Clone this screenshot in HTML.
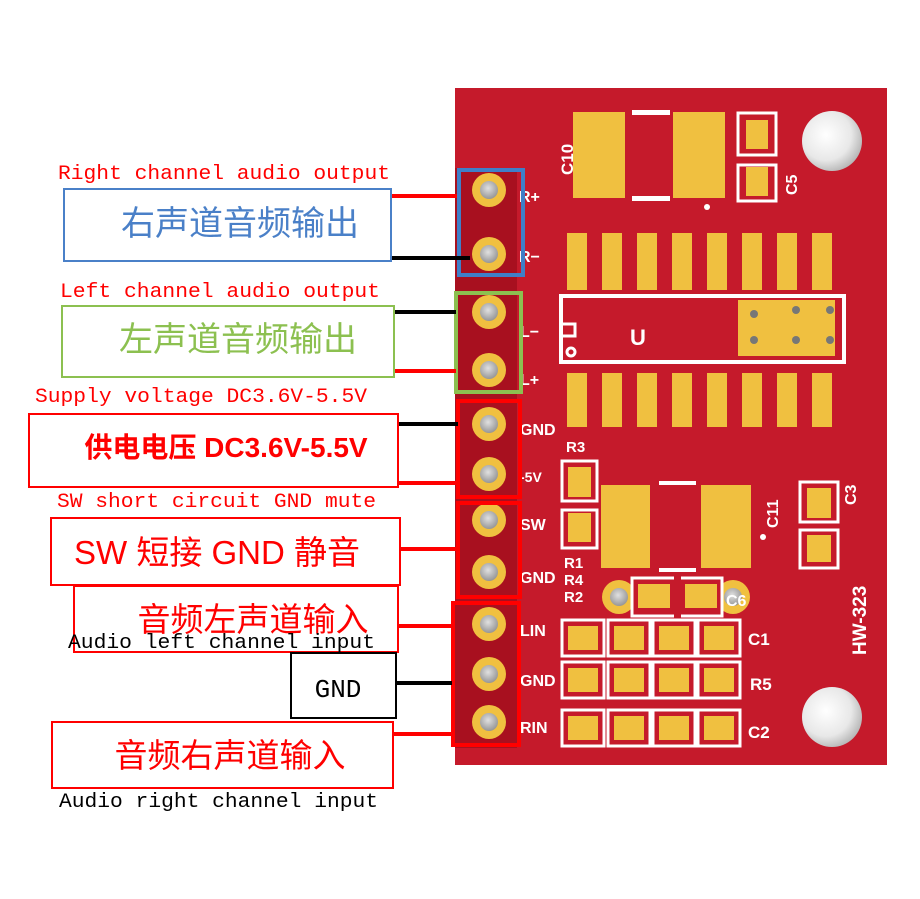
<!DOCTYPE html>
<html><head><meta charset="utf-8"><style>
html,body{margin:0;padding:0;background:#fff;}
svg{display:block;}
.cn{font-family:"Liberation Sans","Noto Sans CJK SC",sans-serif;}
.mo{font-family:"Liberation Mono","Liberation Serif",monospace;}
.wl{font-family:"Liberation Sans",sans-serif;fill:#fff;font-weight:bold;}
</style></head><body>
<svg width="920" height="899" viewBox="0 0 920 899" xmlns="http://www.w3.org/2000/svg">
<defs>
<radialGradient id="hole" cx="0.4" cy="0.4" r="0.7"><stop offset="0" stop-color="#ffffff"/><stop offset="0.6" stop-color="#e8e8e8"/><stop offset="1" stop-color="#a8a8a8"/></radialGradient>
<radialGradient id="via" cx="0.45" cy="0.4" r="0.7"><stop offset="0" stop-color="#e0e0e0"/><stop offset="1" stop-color="#8a8a8a"/></radialGradient>
</defs>
<rect x="455" y="88" width="432" height="677" fill="#c51a2b"/>
<rect x="455" y="168" width="62" height="580" fill="#a8101f"/>
<circle cx="832" cy="141" r="30" fill="url(#hole)"/>
<circle cx="832" cy="717" r="30" fill="url(#hole)"/>
<rect x="573" y="112" width="52" height="86" fill="#f0c040"/>
<rect x="673" y="112" width="52" height="86" fill="#f0c040"/>
<rect x="632" y="110" width="38" height="5" fill="#fff"/>
<rect x="632" y="196" width="38" height="5" fill="#fff"/>
<circle cx="707" cy="207" r="3" fill="#fff"/>
<text class="wl" font-size="17" transform="translate(573,175) rotate(-90)">C10</text>
<rect x="738" y="113" width="38" height="42" fill="none" stroke="#fff" stroke-width="3"/>
<rect x="738" y="165" width="38" height="36" fill="none" stroke="#fff" stroke-width="3"/>
<rect x="746" y="120" width="22" height="29" fill="#f0c040"/>
<rect x="746" y="167" width="22" height="29" fill="#f0c040"/>
<text class="wl" font-size="16" transform="translate(797,195) rotate(-90)">C5</text>
<g fill="#f0c040">
<rect x="567" y="233" width="20" height="57"/><rect x="602" y="233" width="20" height="57"/><rect x="637" y="233" width="20" height="57"/><rect x="672" y="233" width="20" height="57"/><rect x="707" y="233" width="20" height="57"/><rect x="742" y="233" width="20" height="57"/><rect x="777" y="233" width="20" height="57"/><rect x="812" y="233" width="20" height="57"/>
<rect x="567" y="373" width="20" height="54"/><rect x="602" y="373" width="20" height="54"/><rect x="637" y="373" width="20" height="54"/><rect x="672" y="373" width="20" height="54"/><rect x="707" y="373" width="20" height="54"/><rect x="742" y="373" width="20" height="54"/><rect x="777" y="373" width="20" height="54"/><rect x="812" y="373" width="20" height="54"/>
</g>
<rect x="561" y="296" width="283" height="66" fill="none" stroke="#fff" stroke-width="4"/>
<rect x="738" y="300" width="97" height="56" fill="#f0c040"/>
<g fill="#777"><circle cx="754" cy="314" r="4"/><circle cx="796" cy="310" r="4"/><circle cx="830" cy="310" r="4"/><circle cx="754" cy="340" r="4"/><circle cx="796" cy="340" r="4"/><circle cx="830" cy="340" r="4"/></g>
<path d="M563 324 h12 v12 h-12" fill="none" stroke="#fff" stroke-width="3"/>
<circle cx="571" cy="352" r="4" fill="none" stroke="#fff" stroke-width="3"/>
<text class="wl" font-size="22" transform="translate(630,345)">U</text>
<rect x="562" y="461" width="35" height="40" fill="none" stroke="#fff" stroke-width="3"/>
<rect x="568" y="467" width="23" height="30" fill="#f0c040"/>
<rect x="562" y="510" width="35" height="38" fill="none" stroke="#fff" stroke-width="3"/>
<rect x="568" y="513" width="23" height="29" fill="#f0c040"/>
<rect x="601" y="485" width="49" height="83" fill="#f0c040"/>
<rect x="701" y="485" width="50" height="83" fill="#f0c040"/>
<rect x="659" y="481" width="37" height="4" fill="#fff"/>
<rect x="659" y="568" width="37" height="4" fill="#fff"/>
<circle cx="763" cy="537" r="3" fill="#fff"/>
<text class="wl" font-size="16" transform="translate(778,528) rotate(-90)">C11</text>
<rect x="800" y="482" width="38" height="40" fill="none" stroke="#fff" stroke-width="3"/>
<rect x="800" y="530" width="38" height="38" fill="none" stroke="#fff" stroke-width="3"/>
<rect x="807" y="488" width="24" height="30" fill="#f0c040"/>
<rect x="807" y="535" width="24" height="27" fill="#f0c040"/>
<text class="wl" font-size="16" transform="translate(856,505) rotate(-90)">C3</text>
<text class="wl" font-size="19" transform="translate(866,655) rotate(-90)">HW-323</text>
<circle cx="619" cy="597" r="17" fill="#f0c040"/><circle cx="619" cy="597" r="9" fill="url(#via)"/>
<circle cx="733" cy="597" r="17" fill="#f0c040"/><circle cx="733" cy="597" r="9" fill="url(#via)"/>
<rect x="632" y="578" width="90" height="38" fill="#c51a2b" stroke="#fff" stroke-width="3"/>
<rect x="638" y="584" width="32" height="24" fill="#f0c040"/>
<rect x="685" y="584" width="32" height="24" fill="#f0c040"/>
<rect x="674" y="576" width="7" height="42" fill="#c51a2b"/>
<text class="wl" font-size="16" x="726" y="606">C6</text>
<g fill="none" stroke="#fff" stroke-width="3">
<rect x="562" y="620" width="42" height="36"/><rect x="608" y="620" width="42" height="36"/><rect x="653" y="620" width="42" height="36"/><rect x="698" y="620" width="42" height="36"/>
<rect x="562" y="662" width="42" height="36"/><rect x="608" y="662" width="42" height="36"/><rect x="653" y="662" width="42" height="36"/><rect x="698" y="662" width="42" height="36"/>
<rect x="562" y="710" width="42" height="36"/><rect x="608" y="710" width="42" height="36"/><rect x="653" y="710" width="42" height="36"/><rect x="698" y="710" width="42" height="36"/>
</g>
<g fill="#f0c040">
<rect x="568" y="626" width="30" height="24"/><rect x="614" y="626" width="30" height="24"/><rect x="659" y="626" width="30" height="24"/><rect x="704" y="626" width="30" height="24"/>
<rect x="568" y="668" width="30" height="24"/><rect x="614" y="668" width="30" height="24"/><rect x="659" y="668" width="30" height="24"/><rect x="704" y="668" width="30" height="24"/>
<rect x="568" y="716" width="30" height="24"/><rect x="614" y="716" width="30" height="24"/><rect x="659" y="716" width="30" height="24"/><rect x="704" y="716" width="30" height="24"/>
</g>
<text class="wl" font-size="17" x="748" y="645">C1</text>
<text class="wl" font-size="17" x="750" y="690">R5</text>
<text class="wl" font-size="17" x="748" y="738">C2</text>
<text class="wl" font-size="15" x="566" y="452">R3</text>
<text class="wl" font-size="15" x="564" y="568">R1</text>
<text class="wl" font-size="15" x="564" y="585">R4</text>
<text class="wl" font-size="15" x="564" y="602">R2</text>
<g class="wl" font-size="16">
<text x="519" y="202">R+</text><text x="519" y="262">R−</text>
<text x="520" y="337">L−</text><text x="520" y="385">L+</text>
<text x="520" y="435">GND</text><text x="520" y="482" font-size="14">-5V</text>
<text x="520" y="530">SW</text><text x="520" y="583">GND</text>
<text x="520" y="636">LIN</text><text x="520" y="686">GND</text><text x="520" y="733">RIN</text>
</g>
<g>
<circle cx="489" cy="190" r="17" fill="#f0c040"/><circle cx="489" cy="190" r="9" fill="url(#via)"/>
<circle cx="489" cy="254" r="17" fill="#f0c040"/><circle cx="489" cy="254" r="9" fill="url(#via)"/>
<circle cx="489" cy="312" r="17" fill="#f0c040"/><circle cx="489" cy="312" r="9" fill="url(#via)"/>
<circle cx="489" cy="370" r="17" fill="#f0c040"/><circle cx="489" cy="370" r="9" fill="url(#via)"/>
<circle cx="489" cy="424" r="17" fill="#f0c040"/><circle cx="489" cy="424" r="9" fill="url(#via)"/>
<circle cx="489" cy="474" r="17" fill="#f0c040"/><circle cx="489" cy="474" r="9" fill="url(#via)"/>
<circle cx="489" cy="520" r="17" fill="#f0c040"/><circle cx="489" cy="520" r="9" fill="url(#via)"/>
<circle cx="489" cy="572" r="17" fill="#f0c040"/><circle cx="489" cy="572" r="9" fill="url(#via)"/>
<circle cx="489" cy="624" r="17" fill="#f0c040"/><circle cx="489" cy="624" r="9" fill="url(#via)"/>
<circle cx="489" cy="674" r="17" fill="#f0c040"/><circle cx="489" cy="674" r="9" fill="url(#via)"/>
<circle cx="489" cy="722" r="17" fill="#f0c040"/><circle cx="489" cy="722" r="9" fill="url(#via)"/>
</g>
<rect x="459" y="170" width="64" height="105" fill="none" stroke="#3f7fc8" stroke-width="4"/>
<rect x="456" y="293" width="65" height="99" fill="none" stroke="#8cc050" stroke-width="4"/>
<rect x="458" y="401" width="62" height="96" fill="none" stroke="#ff0000" stroke-width="4"/>
<rect x="458" y="503" width="62" height="94" fill="none" stroke="#ff0000" stroke-width="4"/>
<rect x="453" y="603" width="66" height="142" fill="none" stroke="#ff0000" stroke-width="4"/>
<g stroke-width="4">
<line x1="391" y1="196" x2="457" y2="196" stroke="#ff0000"/>
<line x1="391" y1="258" x2="470" y2="258" stroke="#000"/>
<line x1="394" y1="312" x2="456" y2="312" stroke="#000"/>
<line x1="394" y1="371" x2="456" y2="371" stroke="#ff0000"/>
<line x1="398" y1="424" x2="458" y2="424" stroke="#000"/>
<line x1="398" y1="483" x2="458" y2="483" stroke="#ff0000"/>
<line x1="400" y1="549" x2="458" y2="549" stroke="#ff0000"/>
<line x1="398" y1="626" x2="455" y2="626" stroke="#ff0000"/>
<line x1="396" y1="683" x2="452" y2="683" stroke="#000"/>
<line x1="393" y1="734" x2="453" y2="734" stroke="#ff0000"/>
</g>
<rect x="64" y="189" width="327" height="72" fill="#fff" stroke="#4a80c8" stroke-width="2"/>
<text class="cn" x="240" y="235" font-size="34" fill="#4a80c8" text-anchor="middle">右声道音频输出</text>
<rect x="62" y="306" width="332" height="71" fill="#fff" stroke="#8cc050" stroke-width="2"/>
<text class="cn" x="238" y="351" font-size="34" fill="#8cc050" text-anchor="middle">左声道音频输出</text>
<rect x="29" y="414" width="369" height="73" fill="#fff" stroke="#ff0000" stroke-width="2"/>
<text class="cn" x="226" y="457" font-size="28" font-weight="bold" fill="#ff0000" text-anchor="middle">供电电压 DC3.6V-5.5V</text>
<rect x="51" y="518" width="349" height="67" fill="#fff" stroke="#ff0000" stroke-width="2"/>
<text class="cn" x="217" y="564" font-size="33" fill="#ff0000" text-anchor="middle">SW 短接 GND 静音</text>
<rect x="74" y="586" width="324" height="66" fill="#fff" stroke="#ff0000" stroke-width="2"/>
<text class="cn" x="253" y="631" font-size="33" fill="#ff0000" text-anchor="middle">音频左声道输入</text>
<rect x="291" y="653" width="105" height="65" fill="#fff" stroke="#000" stroke-width="2"/>
<text class="mo" x="338" y="697" font-size="26" fill="#000" text-anchor="middle">GND</text>
<rect x="52" y="722" width="341" height="66" fill="#fff" stroke="#ff0000" stroke-width="2"/>
<text class="cn" x="230" y="767" font-size="33" fill="#ff0000" text-anchor="middle">音频右声道输入</text>
<g class="mo" font-size="20">
<text x="58" y="179" fill="#ff0000" textLength="332" lengthAdjust="spacingAndGlyphs">Right channel audio output</text>
<text x="60" y="297" fill="#ff0000" textLength="320" lengthAdjust="spacingAndGlyphs">Left channel audio output</text>
<text x="35" y="402" fill="#ff0000" textLength="332" lengthAdjust="spacingAndGlyphs">Supply voltage DC3.6V-5.5V</text>
<text x="57" y="507" fill="#ff0000" textLength="319" lengthAdjust="spacingAndGlyphs">SW short circuit GND mute</text>
<text x="68" y="648" fill="#000" textLength="307" lengthAdjust="spacingAndGlyphs">Audio left channel input</text>
<text x="59" y="807" fill="#000" textLength="319" lengthAdjust="spacingAndGlyphs">Audio right channel input</text>
</g>
</svg>
</body></html>
